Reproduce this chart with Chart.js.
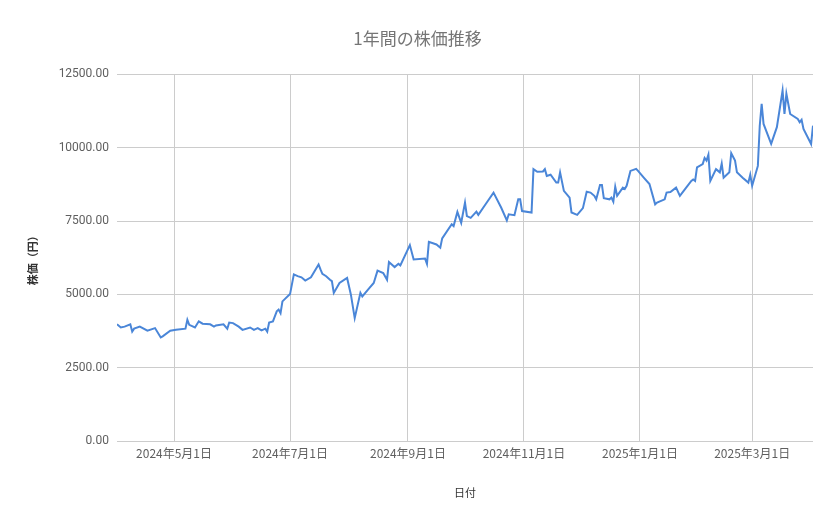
<!DOCTYPE html>
<html>
<head>
<meta charset="utf-8">
<script src="https://cdn.jsdelivr.net/npm/chart.js@4"></script>
<style>
  body { margin: 0; background: #fff; }
  #wrap { width: 839px; height: 519px; }
</style>
</head>
<body>
<div id="wrap"><canvas id="stockChart"></canvas></div>
<script>
// 2024-04-01 を起点とした日数
const startDate = new Date(2024, 3, 1);
const dayOffsets = [0, 2, 4, 7, 8, 9, 12, 16, 20, 23, 24, 28, 31, 36, 37, 38, 41, 43, 45, 49, 51, 52, 56, 58, 59, 61, 64, 66, 70, 72, 74, 76, 78, 79, 80, 82, 84, 85, 86, 87, 91, 93, 95, 97, 99, 102, 106, 107, 108, 110, 112, 113, 114, 117, 121, 123, 125, 128,
  129, 132, 135, 137, 140, 142, 143, 146, 148, 149, 154, 156, 162, 163, 164, 168, 170, 171, 176, 177, 179, 181, 183, 184, 186, 189, 190, 194, 198, 202, 205, 206, 209, 211, 212, 213, 218, 219, 221,
  224, 225, 226, 228, 231, 232, 233, 235, 238, 239, 242, 245, 247, 249, 251, 252, 254, 255, 256, 259, 260, 261, 262, 263, 266, 267, 268, 270, 273, 274, 277, 280, 283, 284, 288, 289, 291, 294, 296, 298, 302, 303, 304, 305, 308, 309, 310, 311, 312, 315, 317, 318, 319, 322, 323, 325, 326, 329, 332, 333, 334, 337, 338, 339, 340, 344, 347, 350, 351, 352, 354, 358, 359, 360, 361, 365, 366];
const prices = [3980, 3870, 3900, 3980, 3730, 3830, 3900, 3760, 3850, 3530, 3570, 3760, 3790, 3830, 4130, 3960, 3870, 4080, 4000, 3980, 3900, 3940, 3980, 3830, 4040, 4020, 3900, 3790, 3870, 3790, 3850, 3770, 3830, 3730, 4040, 4080, 4420, 4480, 4360, 4760, 5010, 5680, 5620, 5580, 5470, 5580, 6020, 5850, 5700, 5620, 5500, 5450, 5050, 5390, 5560, 4990, 4190, 5050,
  4930, 5160, 5390, 5810, 5730, 5500, 6100, 5930, 6040, 5990, 6680, 6190, 6220, 6040, 6790, 6700, 6590, 6910, 7390, 7330, 7810, 7440, 8130, 7670, 7610, 7820, 7710, 8090, 8470, 7960, 7520, 7730, 7700, 8240, 8240, 7840, 7790, 9270, 9180,
  9190, 9270, 9040, 9080, 8810, 8810, 9160, 8530, 8300, 7790, 7710, 7940, 8500, 8470, 8360, 8240, 8730, 8730, 8280, 8240, 8300, 8160, 8670, 8360, 8640, 8590, 8700, 9210, 9280, 9210, 8980, 8760, 8070, 8130, 8240, 8470, 8490, 8640, 8360, 8530, 8870, 8920, 8870, 9330, 9440, 9650, 9560, 9760, 8870, 9270, 9160, 9460, 8980, 9160, 9810, 9560, 9160, 8980, 8810, 9080, 8700, 9380, 10750, 11500, 10810, 10130, 10700, 11950, 11150, 11840, 11150, 10980, 10870, 10950, 10640, 10130, 10750];

const tickDays = [30, 91, 153, 214, 275, 334];
const tickLabels = ['2024年5月1日', '2024年7月1日', '2024年9月1日', '2024年11月1日', '2025年1月1日', '2025年3月1日'];

const points = dayOffsets.map((d, i) => ({ x: d, y: prices[i] }));

Chart.defaults.font.family = 'Roboto, "Noto Sans CJK JP", sans-serif';

const ctx = document.getElementById('stockChart').getContext('2d');
new Chart(ctx, {
    type: 'line',
    data: {
        datasets: [{
            label: '株価',
            data: points,
            borderColor: '#4a86d8',
            borderWidth: 2,
            pointRadius: 0,
            tension: 0,
            fill: false
        }]
    },
    options: {
        responsive: true,
        maintainAspectRatio: false,
        animation: false,
        layout: { padding: { left: 22, right: 26, top: 0, bottom: 16 } },
        plugins: {
            legend: { display: false },
            tooltip: { enabled: false },
            title: {
                display: true,
                text: '1年間の株価推移',
                color: '#757575',
                font: { size: 17, weight: 'normal', family: '"Noto Sans CJK JP", Roboto, sans-serif' },
                padding: { top: 28, bottom: 26 }
            }
        },
        scales: {
            x: {
                type: 'linear',
                min: 0,
                max: 366,
                afterBuildTicks: (axis) => { axis.ticks = tickDays.map(v => ({ value: v })); },
                afterFit: (axis) => { axis.height = 62; },
                ticks: {
                    autoSkip: false,
                    maxRotation: 0,
                    padding: 5,
                    color: '#5f5f5f',
                    font: { size: 12, family: '"Noto Sans CJK JP", sans-serif' },
                    callback: (value) => tickLabels[tickDays.indexOf(value)] || ''
                },
                grid: { color: '#cccccc', drawTicks: false },
                border: { display: false },
                title: {
                    display: true,
                    text: '日付',
                    color: '#333',
                    font: { size: 11, family: '"Noto Sans CJK JP", sans-serif' },
                    padding: { top: 15 }
                }
            },
            y: {
                min: 0,
                max: 12500,
                afterFit: (axis) => { axis.width = 95; },
                ticks: {
                    stepSize: 2500,
                    color: '#5f5f5f',
                    font: { size: 12 },
                    padding: 8,
                    callback: (value) => value.toFixed(2)
                },
                grid: { color: '#cccccc', drawTicks: false },
                border: { display: false },
                title: {
                    display: true,
                    text: '株価（円）',
                    color: '#333',
                    font: { size: 11, weight: 'bold', family: '"Noto Sans CJK JP", sans-serif' }
                }
            }
        }
    }
});
</script>
</body>
</html>
